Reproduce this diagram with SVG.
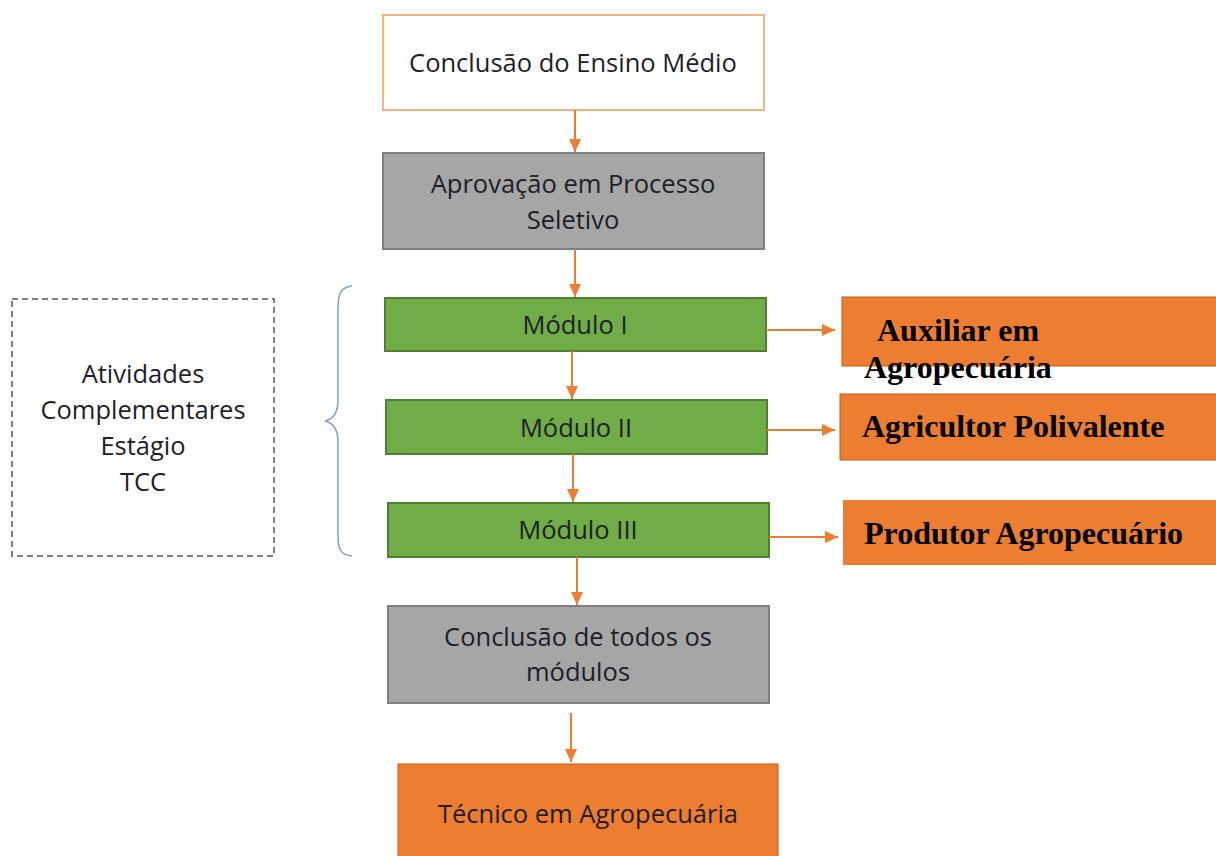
<svg xmlns="http://www.w3.org/2000/svg" width="1216" height="856" viewBox="0 0 1216 856">
<defs>
<marker id="ah" markerWidth="14" markerHeight="14" refX="13" refY="7" orient="auto" markerUnits="userSpaceOnUse">
<path d="M0,1 L13,7 L0,13 z" fill="#ed7d31"/>
</marker>
<style>
.t{font-family:"Open Sans","Liberation Sans",sans-serif;font-size:25.5px;fill:#1e1e28;text-anchor:middle}
.b{font-family:"Liberation Serif","Times New Roman",serif;font-size:32px;font-weight:bold;fill:#000}
.gray{fill:#a6a6a6;stroke:#7f7f7f;stroke-width:2}
.green{fill:#70ad47;stroke:#507e32;stroke-width:2}
.orange{fill:#ed7d31;stroke:#c55a11;stroke-width:1}
.c{stroke:#ed7d31;stroke-width:2;fill:none;marker-end:url(#ah)}
</style>
</defs>
<rect width="1216" height="856" fill="#fff"/>
<g id="n1"><rect x="383" y="15" width="381" height="95" fill="#fff" stroke="#f4b183" stroke-width="2"/><text class="t" x="573" y="72">Conclusão do Ensino Médio</text></g>
<g id="n2"><rect class="gray" x="383" y="153" width="381" height="96"/><text class="t" x="573" y="193">Aprovação em Processo</text><text class="t" x="573" y="229">Seletivo</text></g>
<g id="m1"><rect class="green" x="385" y="298" width="381" height="53"/><text class="t" x="575" y="334">Módulo I</text></g>
<g id="m2"><rect class="green" x="386" y="400" width="381" height="54"/><text class="t" x="576" y="437">Módulo II</text></g>
<g id="m3"><rect class="green" x="388" y="503" width="381" height="54"/><text class="t" x="578" y="539">Módulo III</text></g>
<g id="n3"><rect class="gray" x="388" y="606" width="381" height="97"/><text class="t" x="578" y="646">Conclusão de todos os</text><text class="t" x="578" y="681">módulos</text></g>
<g id="n4"><rect class="orange" x="398" y="764" width="380" height="100"/><text class="t" x="588" y="823">Técnico em Agropecuária</text></g>
<g id="r1"><rect class="orange" x="842" y="297" width="380" height="69"/><text class="b" x="877" y="341">Auxiliar em</text><text class="b" x="864" y="378">Agropecuária</text></g>
<g id="r2"><rect class="orange" x="840" y="394" width="380" height="66"/><text class="b" x="862" y="437">Agricultor Polivalente</text></g>
<g id="r3"><rect x="843" y="500" width="380" height="65" fill="#ed7d31"/><text class="b" x="864" y="544">Produtor Agropecuário</text></g>
<g id="side"><rect x="12" y="299" width="262" height="257" fill="none" stroke="#7f7f7f" stroke-width="2" stroke-dasharray="6,4"/>
<text class="t" x="143" y="383">Atividades</text><text class="t" x="143" y="419">Complementares</text><text class="t" x="143" y="455">Estágio</text><text class="t" x="143" y="491">TCC</text></g>
<g id="brace"><path d="M352,286 C340,287 338,295 338,310 L338,400 C338,412 334,419 325,421 C334,423 338,430 338,442 L338,536 C338,550 341,555 352,556" fill="none" stroke="#7f9fcf" stroke-width="1.5"/></g>
<g id="connectors">
<line class="c" x1="575" y1="110" x2="575" y2="152"/>
<line class="c" x1="575" y1="249" x2="575" y2="297"/>
<line class="c" x1="572" y1="351" x2="572" y2="399"/>
<line class="c" x1="573" y1="454" x2="573" y2="502"/>
<line class="c" x1="577" y1="557" x2="577" y2="605"/>
<line class="c" x1="571" y1="713" x2="571" y2="762"/>
<line class="c" x1="766" y1="330" x2="835" y2="330"/>
<line class="c" x1="767" y1="430" x2="835" y2="430"/>
<line class="c" x1="769" y1="537" x2="838" y2="537"/>
</g>
</svg>
